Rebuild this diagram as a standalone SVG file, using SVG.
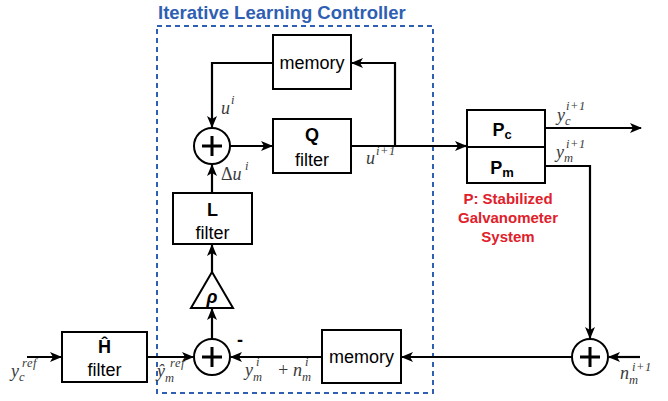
<svg xmlns="http://www.w3.org/2000/svg" width="668" height="401" viewBox="0 0 668 401">
<defs>
<marker id="ah" viewBox="0 0 12 10" refX="11" refY="5" markerWidth="12" markerHeight="10" markerUnits="userSpaceOnUse" orient="auto">
<path d="M0,0 L12,5 L0,10 L3,5 z" fill="#000"/>
</marker>
<style>
.box{fill:#fff;stroke:#000;stroke-width:2}
.ln{fill:none;stroke:#000;stroke-width:2.2}
.ar{fill:none;stroke:#000;stroke-width:2.2;marker-end:url(#ah)}
.t{font-family:"Liberation Sans",Arial,sans-serif;font-size:18px;fill:#000;text-anchor:middle}
.b{font-weight:bold}
.m{font-family:"Liberation Serif","Times New Roman",serif;font-style:italic;font-size:18px;fill:#3a3a3a}
.s{font-family:"Liberation Serif","Times New Roman",serif;font-style:italic;font-size:12.5px;fill:#3a3a3a;letter-spacing:0.5px}
.red{font-family:"Liberation Sans",Arial,sans-serif;font-size:15px;font-weight:bold;fill:#e0202a;text-anchor:middle}
</style>
</defs>
<rect x="0" y="0" width="668" height="401" fill="#fff"/>
<g id="ilc-frame">
<rect x="157" y="26" width="276" height="367" fill="none" stroke="#2f5fb3" stroke-width="2" stroke-dasharray="5,4"/>
<text x="158" y="19" font-family="Liberation Sans,Arial,sans-serif" font-size="18.5" font-weight="bold" fill="#2f5fb3">Iterative Learning Controller</text>
</g>
<g id="connectors">
<polyline class="ar" points="273,63 212,63 212,127"/>
<line class="ar" x1="230" y1="146" x2="272" y2="146"/>
<polyline class="ln" points="351,146 463,146"/>
<line class="ar" x1="463" y1="146" x2="466" y2="146"/>
<polyline class="ar" points="395,146 395,63 352,63"/>
<line class="ar" x1="212" y1="193" x2="212" y2="165"/>
<line class="ar" x1="212" y1="272" x2="212" y2="245"/>
<line class="ar" x1="212" y1="339" x2="212" y2="309"/>
<line class="ar" x1="322" y1="357" x2="231" y2="357"/>
<line class="ar" x1="147" y1="357" x2="193" y2="357"/>
<line class="ar" x1="27" y1="357" x2="61" y2="357"/>
<line class="ar" x1="545" y1="128" x2="641" y2="128"/>
<polyline class="ar" points="545,166 590,166 590,338"/>
<line class="ar" x1="572" y1="357" x2="402" y2="357"/>
<line class="ar" x1="640" y1="357" x2="609" y2="357"/>
</g>
<g id="memory-top">
<rect class="box" x="273" y="35" width="78" height="54"/>
<text class="t" x="312" y="69">memory</text>
</g>
<g id="q-filter">
<rect class="box" x="273" y="119" width="78" height="54"/>
<text class="t b" x="312" y="141">Q</text>
<text class="t" x="312" y="166">filter</text>
</g>
<g id="sum-top">
<circle cx="212" cy="146" r="18" fill="#fff" stroke="#000" stroke-width="2"/>
<path d="M202,146 H222 M212,136 V156" stroke="#000" stroke-width="3"/>
</g>
<g id="l-filter">
<rect class="box" x="173" y="193" width="79" height="51"/>
<text class="t b" x="212.5" y="216">L</text>
<text class="t" x="212.5" y="239">filter</text>
</g>
<g id="rho">
<polygon points="212,272 233,308 191,308" fill="#fff" stroke="#000" stroke-width="2"/>
<text class="t b" x="212" y="303" font-style="italic" font-size="17">ρ</text>
</g>
<g id="sum-bottom">
<circle cx="212" cy="357" r="18" fill="#fff" stroke="#000" stroke-width="2"/>
<path d="M202,357 H222 M212,347 V367" stroke="#000" stroke-width="3"/>
<text class="t b" x="240" y="346">-</text>
</g>
<g id="memory-bottom">
<rect class="box" x="322" y="330" width="79" height="53"/>
<text class="t" x="361.5" y="363">memory</text>
</g>
<g id="h-filter">
<rect class="box" x="62" y="332" width="85" height="50"/>
<text class="t b" x="104.5" y="353">Ĥ</text>
<text class="t" x="104.5" y="376">filter</text>
</g>
<g id="plant">
<rect class="box" x="467" y="110" width="78" height="73"/>
<line x1="467" y1="147" x2="545" y2="147" stroke="#000" stroke-width="2"/>
<text class="t b" x="502" y="136" font-size="19">P<tspan font-size="13" dy="3">c</tspan></text>
<text class="t b" x="502" y="174" font-size="19">P<tspan font-size="13" dy="3">m</tspan></text>
<text class="red" x="508" y="204">P: Stabilized</text>
<text class="red" x="508" y="223">Galvanometer</text>
<text class="red" x="508" y="242">System</text>
</g>
<g id="sum-right">
<circle cx="590" cy="357" r="18" fill="#fff" stroke="#000" stroke-width="2"/>
<path d="M580,357 H600 M590,347 V367" stroke="#000" stroke-width="3"/>
</g>
<g id="labels">
<text class="m" x="221" y="114">u</text><text class="s" x="231" y="104">i</text>
<text class="m" x="221" y="180"><tspan font-style="normal">Δ</tspan>u</text><text class="s" x="245" y="170">i</text>
<text class="m" x="366" y="164">u</text><text class="s" x="376" y="155">i+1</text>
<text class="m" x="557" y="121">y</text><text class="s" x="565" y="125">c</text><text class="s" x="566" y="110">i+1</text>
<text class="m" x="556" y="158">y</text><text class="s" x="564" y="162">m</text><text class="s" x="566" y="148">i+1</text>
<text class="m" x="11" y="377">y</text><text class="s" x="19" y="381">c</text><text class="s" x="22" y="367">ref</text>
<text class="m" x="157" y="377">ŷ</text><text class="s" x="165" y="382">m</text><text class="s" x="170" y="367">ref</text>
<text class="m" x="245" y="376">y</text><text class="s" x="253" y="381">m</text><text class="s" x="256" y="366">i</text>
<text class="m" x="277" y="376" font-style="normal">+</text>
<text class="m" x="293" y="376">n</text><text class="s" x="302" y="381">m</text><text class="s" x="305" y="366">i</text>
<text class="m" x="620" y="379">n</text><text class="s" x="629" y="384">m</text><text class="s" x="632" y="371">i+1</text>
</g>
</svg>
